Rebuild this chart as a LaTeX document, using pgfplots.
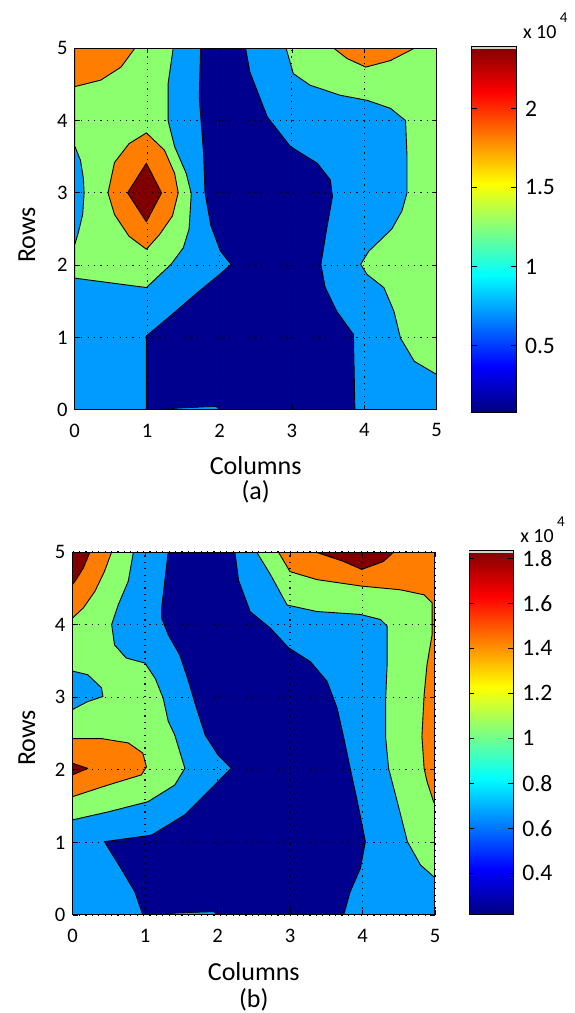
\documentclass[border=0pt]{standalone}
\usepackage{pgfplots}
\pgfplotsset{compat=1.18}
\usepackage{fontspec}
\setmainfont{Carlito}
\definecolor{dblue}{RGB}{0,0,143}
\definecolor{lblue}{RGB}{0,155,255}
\definecolor{cgreen}{RGB}{140,255,110}
\definecolor{corange}{RGB}{255,125,0}
\definecolor{dred}{RGB}{128,0,0}
% MATLAB "jet" colour scale, bottom to top (central 25bp--75bp span the bar)
\pgfdeclareverticalshading{jetv}{100bp}{%
  rgb(0bp)=(0,0,0.5); rgb(25bp)=(0,0,0.5); rgb(31.25bp)=(0,0,1);
  rgb(43.75bp)=(0,1,1); rgb(56.25bp)=(1,1,0); rgb(68.75bp)=(1,0,0);
  rgb(75bp)=(0.5,0,0); rgb(100bp)=(0.5,0,0)}
\pgfplotsset{
  contourax/.style={
    scale only axis,
    xmin=0,xmax=5,ymin=0,ymax=5,
    xtick={0,...,5}, ytick={0,...,5},
    grid=major,
    major grid style={black, line width=0.55pt, dash pattern=on 0.6pt off 2.6pt},
    axis on top,
    tick align=inside,
    major tick length=2.5pt,
    tick style={black, line width=0.4pt},
    axis line style={line width=0.5pt},
    axis background/.style={fill=lblue},
    /pgf/number format/assume math mode=true,
    ticklabel style={font=\fontsize{10.3}{11}\selectfont},
    xticklabel style={yshift=-3.5pt},
  },
  cbarax/.style={
    scale only axis,
    xmin=0, xmax=1,
    xtick=\empty,
    axis on top,
    axis background/.style={shading=jetv},
    ytick pos=both, yticklabel pos=right,
    tick align=inside, major tick length=2.5pt,
    tick style={black, line width=0.4pt},
    axis line style={line width=0.5pt},
    yticklabel style={font=\fontsize{11.8}{12}\selectfont, xshift=1pt},
    scaled y ticks=false,
    /pgf/number format/assume math mode=true,
    extra description/.code={
      \fill[gray!35] (rel axis cs:0,0.993) rectangle (rel axis cs:1,1);
      \node[anchor=south west, inner sep=0pt, font=\fontsize{10}{11}\selectfont]
        at ([xshift=3.3pt,yshift=4pt]rel axis cs:1,1) {x 10\,\raisebox{8pt}{\fontsize{7.5}{8}\selectfont 4}};
    },
  },
  reg/.style={draw=black, line width=0.45pt, line join=round, fill=#1, forget plot},
}
\begin{document}
\begin{tikzpicture}
\useasboundingbox (0,0) rectangle (287pt,506.5pt);
% ---------------- (a) ----------------
\begin{axis}[contourax, at={(37.35pt,301.65pt)}, anchor=south west,
  width=181pt, height=180.7pt]
% dark blue core
\addplot[reg=dblue] coordinates {
 (1.74,5) (1.72,4.33) (1.78,3.55) (1.80,3.0) (1.88,2.55) (2.01,2.20) (2.16,2.01)
 (2.0,1.87) (1.66,1.59) (1.29,1.27) (0.99,1.02) (0.99,0) (3.87,0) (3.85,1.04)
 (3.62,1.36) (3.46,1.69) (3.40,2.01) (3.48,2.5) (3.56,2.95) (3.53,3.18) (3.35,3.41)
 (2.98,3.64) (2.66,4.05) (2.42,4.67) (2.36,5)} -- cycle;
% thin light-blue sliver at the bottom
\addplot[reg=lblue, line width=0.3pt] coordinates {
 (1.08,0) (1.5,0.025) (1.95,0.045) (2.0,0)} -- cycle;
% green, left
\addplot[reg=cgreen] coordinates {
 (1.36,5) (1.29,4.51) (1.29,4.0) (1.38,3.64) (1.54,3.27) (1.61,2.99) (1.58,2.5)
 (1.50,2.24) (1.33,2.01) (0.99,1.69) (0,1.82) (0,2.28) (0.05,2.45) (0.11,2.7)
 (0.13,3.0) (0.12,3.2) (0.08,3.45) (0,3.65) (0,5)} -- cycle;
% green, right
\addplot[reg=cgreen] coordinates {
 (2.92,5) (3.02,4.65) (3.25,4.49) (3.67,4.35) (4.04,4.28) (4.36,4.17) (4.57,4.0)
 (4.59,3.5) (4.59,3.0) (4.52,2.75) (4.38,2.5) (4.06,2.19) (3.95,2.01) (4.04,1.87)
 (4.27,1.69) (4.41,1.36) (4.50,0.99) (4.69,0.67) (4.96,0.51) (5,0.49) (5,5)} -- cycle;
% orange regions
\addplot[reg=corange] coordinates {
 (0,4.47) (0.36,4.56) (0.64,4.74) (0.83,5) (0,5)} -- cycle;
\addplot[reg=corange] coordinates {
 (3.58,5) (3.76,4.86) (4.02,4.74) (4.36,4.83) (4.69,5)} -- cycle;
\addplot[reg=corange] coordinates {
 (0.99,3.83) (1.24,3.59) (1.38,3.27) (1.43,3.0) (1.35,2.68) (1.17,2.42) (0.99,2.22)
 (0.75,2.40) (0.55,2.70) (0.46,3.0) (0.55,3.42) (0.75,3.68)} -- cycle;
% dark red
\addplot[reg=dred] coordinates {
 (0.99,3.41) (1.20,3.0) (0.99,2.60) (0.73,3.0)} -- cycle;
\end{axis}
% colour bar (a)
\begin{axis}[cbarax, at={(235.85pt,300.35pt)}, anchor=south west,
  width=22.15pt, height=182.8pt, ymin=790, ymax=23900,
  ytick={5000,10000,15000,20000}, yticklabels={0.5,1,1.5,2}]
\end{axis}
% ---------------- (b) ----------------
\begin{axis}[contourax, at={(36.25pt,49pt)}, anchor=south west,
  width=181.25pt, height=181.5pt]
\addplot[reg=dblue] coordinates {
 (1.32,5) (1.23,4.23) (1.23,4.09) (1.32,3.86) (1.48,3.58) (1.60,3.22) (1.71,2.85)
 (1.83,2.48) (2.01,2.20) (2.19,2.02) (1.96,1.79) (1.55,1.38) (1.09,1.10) (0.44,1.01)
 (0.67,0.64) (0.86,0.32) (0.97,0) (3.74,0) (3.83,0.32) (3.97,0.64) (4.04,1.01)
 (3.93,1.56) (3.83,2.02) (3.74,2.45) (3.65,2.85) (3.51,3.22) (3.28,3.49) (2.98,3.68)
 (2.73,3.95) (2.45,4.18) (2.29,4.61) (2.24,5)} -- cycle;
\addplot[reg=lblue, line width=0.3pt] coordinates {
 (1.04,0) (1.5,0.03) (1.95,0.045) (1.99,0)} -- cycle;
% green left
\addplot[reg=cgreen] coordinates {
 (0.84,5) (0.77,4.60) (0.63,4.27) (0.54,4.0) (0.58,3.72) (0.74,3.54) (1.0,3.47)
 (1.14,3.26) (1.25,2.99) (1.32,2.67) (1.41,2.48) (1.55,2.02) (1.41,1.79) (1.04,1.56)
 (0.49,1.42) (0,1.31) (0,2.83) (0.21,2.94) (0.42,3.01) (0.40,3.13) (0.21,3.31)
 (0,3.36) (0,5)} -- cycle;
% green right
\addplot[reg=cgreen] coordinates {
 (2.54,5) (2.73,4.69) (2.96,4.27) (3.37,4.18) (3.97,4.14) (4.25,4.07) (4.34,3.98)
 (4.34,3.45) (4.32,2.99) (4.32,2.44) (4.36,2.02) (4.48,1.56) (4.62,1.01) (4.80,0.69)
 (4.98,0.53) (5,0.52) (5,5)} -- cycle;
% orange
\addplot[reg=corange] coordinates {
 (0.54,5) (0.44,4.73) (0.31,4.46) (0.15,4.23) (0,4.09) (0,5)} -- cycle;
\addplot[reg=corange] coordinates {
 (0,2.43) (0.40,2.43) (0.77,2.37) (0.97,2.23) (1.02,2.04) (0.95,1.93) (0.49,1.79)
 (0,1.63)} -- cycle;
\addplot[reg=corange] coordinates {
 (2.84,5) (3.0,4.73) (3.37,4.62) (3.99,4.53) (4.52,4.48) (4.85,4.41) (4.96,4.30)
 (4.96,3.86) (4.89,3.45) (4.85,3.03) (4.82,2.46) (4.85,2.02) (4.89,1.84) (4.98,1.56)
 (5,1.52) (5,5)} -- cycle;
% dark red
\addplot[reg=dred] coordinates {
 (0.24,5) (0.15,4.78) (0.05,4.62) (0,4.55) (0,5)} -- cycle;
\addplot[reg=dred] coordinates {
 (0,2.09) (0.21,2.02) (0,1.93)} -- cycle;
\addplot[reg=dred] coordinates {
 (3.35,5) (3.74,4.87) (3.99,4.76) (4.29,4.87) (4.43,5)} -- cycle;
\end{axis}
% colour bar (b)
\begin{axis}[cbarax, at={(234.65pt,49pt)}, anchor=south west,
  width=22pt, height=182.15pt, ymin=2150, ymax=18340,
  ytick={4000,6000,8000,10000,12000,14000,16000,18000},
  yticklabels={0.4,0.6,0.8,1,1.2,1.4,1.6,1.8}]
\end{axis}
% labels
\tikzset{lab/.style={font=\fontsize{13}{14}\selectfont, inner sep=0pt}}
\node[lab, rotate=90] at (13.5pt,389pt) {Rows};
\node[lab] at (127.85pt,273.5pt) {Columns};
\node[lab] at (127.85pt,260.5pt) {(a)};
\node[lab, rotate=90] at (13.5pt,137.5pt) {Rows};
\node[lab] at (126.9pt,20.7pt) {Columns};
\node[lab] at (126.9pt,6.5pt) {(b)};
\end{tikzpicture}
\end{document}
